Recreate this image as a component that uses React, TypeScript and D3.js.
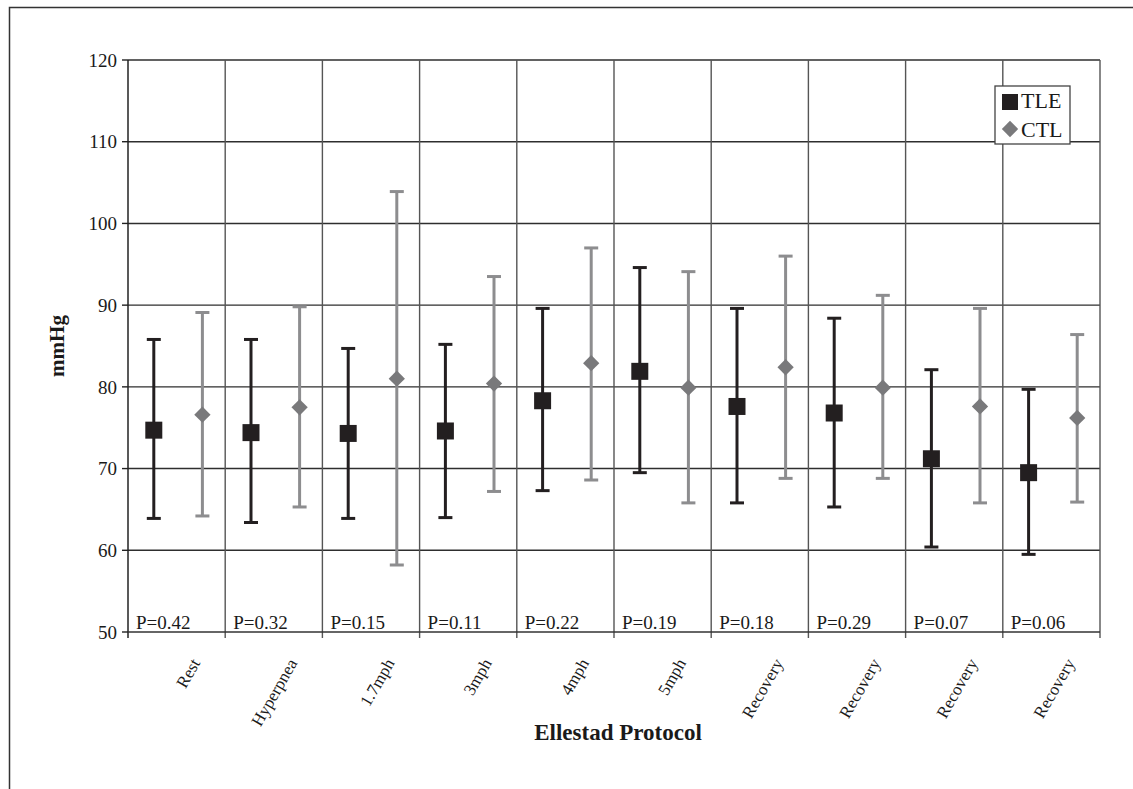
import React, { useRef, useEffect } from 'react';
import * as d3 from 'd3';

const categories = ['Rest', 'Hyperpnea', '1.7mph', '3mph', '4mph', '5mph', 'Recovery', 'Recovery', 'Recovery', 'Recovery'];
const pLabels = ['P=0.42', 'P=0.32', 'P=0.15', 'P=0.11', 'P=0.22', 'P=0.19', 'P=0.18', 'P=0.29', 'P=0.07', 'P=0.06'];

const tleMean = [74.7, 74.4, 74.3, 74.6, 78.3, 81.9, 77.6, 76.8, 71.2, 69.5];
const tleHigh = [85.8, 85.8, 84.7, 85.2, 89.6, 94.6, 89.6, 88.4, 82.1, 79.7];
const tleLow = [63.9, 63.4, 63.9, 64.0, 67.3, 69.5, 65.8, 65.3, 60.4, 59.5];

const ctlMean = [76.6, 77.5, 81.0, 80.4, 82.9, 79.9, 82.4, 79.9, 77.6, 76.2];
const ctlHigh = [89.1, 89.8, 103.9, 93.5, 97.0, 94.1, 96.0, 91.2, 89.6, 86.4];
const ctlLow = [64.2, 65.3, 58.2, 67.2, 68.6, 65.8, 68.8, 68.8, 65.8, 65.9];

const yTicks = [50, 60, 70, 80, 90, 100, 110, 120];

const FONT = '"Liberation Serif", "Times New Roman", serif';
const DARK = '#231f20';
const GREY_LINE = '#8d8d8f';
const GREY_MARK = '#79797b';

const Chart = () => {
    const svgRef = useRef(null);

    useEffect(() => {
        const svg = d3.select(svgRef.current);
        svg.selectAll('*').remove();
        const width = 1133;
        const height = 789;
        const margin = { top: 60, right: 33, bottom: 157, left: 128 };
        const innerWidth = width - margin.left - margin.right;
        const innerHeight = height - margin.top - margin.bottom;

        // outer frame (runs off the right and bottom edges)
        svg.append('rect')
            .attr('x', 9.5).attr('y', 7.5)
            .attr('width', 1140).attr('height', 800)
            .attr('fill', 'white')
            .attr('stroke', '#333').attr('stroke-width', 1.5);

        const idx = categories.map((_, i) => String(i));
        const xScale = d3.scaleBand().domain(idx).range([0, innerWidth]).padding(0);
        const sub = d3.scalePoint().domain(['TLE', 'CTL']).range([0, xScale.bandwidth()]).padding(0.5);
        const yScale = d3.scaleLinear().domain([50, 120]).range([innerHeight, 0]);

        const g = svg.append('g')
            .attr('transform', `translate(${margin.left},${margin.top})`);

        // horizontal gridlines
        g.selectAll('line.hgrid')
            .data(yTicks.filter(t => t > 50))
            .enter().append('line')
            .attr('x1', 0).attr('x2', innerWidth)
            .attr('y1', d => yScale(d)).attr('y2', d => yScale(d))
            .attr('stroke', '#2e2e2e').attr('stroke-width', 1.4);

        // vertical gridlines at category boundaries
        g.selectAll('line.vgrid')
            .data(idx.slice(1).concat(['end']))
            .enter().append('line')
            .attr('x1', d => d === 'end' ? innerWidth : xScale(d))
            .attr('x2', d => d === 'end' ? innerWidth : xScale(d))
            .attr('y1', 0).attr('y2', innerHeight + 6)
            .attr('stroke', '#555').attr('stroke-width', 1.4);

        // axes
        g.append('line')
            .attr('x1', 0).attr('x2', 0).attr('y1', 0).attr('y2', innerHeight + 6)
            .attr('stroke', '#222').attr('stroke-width', 1.5);
        g.append('line')
            .attr('x1', 0).attr('x2', innerWidth).attr('y1', innerHeight).attr('y2', innerHeight)
            .attr('stroke', '#333').attr('stroke-width', 1.6);

        // y ticks + labels
        const yt = g.selectAll('g.ytick').data(yTicks).enter().append('g')
            .attr('transform', d => `translate(0,${yScale(d)})`);
        yt.append('line').attr('x1', -6).attr('x2', 0)
            .attr('stroke', '#222').attr('stroke-width', 1.4);
        yt.append('text')
            .attr('x', -11).attr('dy', '0.35em')
            .attr('text-anchor', 'end')
            .attr('font-family', FONT).attr('font-size', 19)
            .attr('fill', '#1a1a1a')
            .text(d => d);

        // P labels
        g.selectAll('text.p')
            .data(pLabels)
            .enter().append('text')
            .attr('x', (d, i) => xScale(String(i)) + 8)
            .attr('y', innerHeight - 3)
            .attr('font-family', FONT).attr('font-size', 19)
            .attr('fill', '#1a1a1a')
            .text(d => d);

        // category labels
        g.selectAll('text.cat')
            .data(categories)
            .enter().append('text')
            .attr('transform', (d, i) => `translate(${xScale(String(i)) + xScale.bandwidth() / 2 + 24},${innerHeight + 31}) rotate(-60)`)
            .attr('text-anchor', 'end')
            .attr('font-family', FONT).attr('font-size', 17)
            .attr('fill', '#1a1a1a')
            .text(d => d);

        // error bars
        const series = [
            { key: 'TLE', mean: tleMean, high: tleHigh, low: tleLow, line: DARK, mark: DARK },
            { key: 'CTL', mean: ctlMean, high: ctlHigh, low: ctlLow, line: GREY_LINE, mark: GREY_MARK },
        ];
        const cap = 7;
        series.forEach(s => {
            const sg = g.append('g');
            const cx = i => xScale(String(i)) + sub(s.key) + 1.5;
            sg.selectAll('line.bar').data(s.mean).enter().append('line')
                .attr('x1', (d, i) => cx(i)).attr('x2', (d, i) => cx(i))
                .attr('y1', (d, i) => yScale(s.high[i])).attr('y2', (d, i) => yScale(s.low[i]))
                .attr('stroke', s.line).attr('stroke-width', 3);
            sg.selectAll('line.hi').data(s.high).enter().append('line')
                .attr('x1', (d, i) => cx(i) - cap).attr('x2', (d, i) => cx(i) + cap)
                .attr('y1', d => yScale(d)).attr('y2', d => yScale(d))
                .attr('stroke', s.line).attr('stroke-width', 3);
            sg.selectAll('line.lo').data(s.low).enter().append('line')
                .attr('x1', (d, i) => cx(i) - cap).attr('x2', (d, i) => cx(i) + cap)
                .attr('y1', d => yScale(d)).attr('y2', d => yScale(d))
                .attr('stroke', s.line).attr('stroke-width', 3);
            const sym = s.key === 'TLE' ? d3.symbolSquare : d3.symbolDiamond2;
            const size = s.key === 'TLE' ? 17 * 17 : 13 * 13;
            sg.selectAll('path.m').data(s.mean).enter().append('path')
                .attr('d', d3.symbol().type(sym).size(size))
                .attr('transform', (d, i) => `translate(${cx(i)},${yScale(d)})`)
                .attr('fill', s.mark);
        });

        // legend
        const lg = svg.append('g').attr('transform', 'translate(995,86)');
        lg.append('rect').attr('width', 75).attr('height', 58)
            .attr('fill', 'white').attr('stroke', '#444').attr('stroke-width', 1.3);
        lg.append('path')
            .attr('d', d3.symbol().type(d3.symbolSquare).size(16 * 16))
            .attr('transform', 'translate(15,16)').attr('fill', DARK);
        lg.append('path')
            .attr('d', d3.symbol().type(d3.symbolDiamond2).size(13 * 13))
            .attr('transform', 'translate(15,43)').attr('fill', GREY_MARK);
        lg.append('text').attr('x', 26).attr('y', 22)
            .attr('font-family', FONT).attr('font-size', 22).attr('fill', '#1a1a1a').text('TLE');
        lg.append('text').attr('x', 26).attr('y', 51)
            .attr('font-family', FONT).attr('font-size', 22).attr('fill', '#1a1a1a').text('CTL');

        // axis titles
        svg.append('text')
            .attr('x', margin.left + innerWidth / 2 + 4).attr('y', 740)
            .attr('text-anchor', 'middle')
            .attr('font-family', FONT).attr('font-size', 23).attr('font-weight', 'bold')
            .attr('fill', '#1a1a1a')
            .text('Ellestad Protocol');
        svg.append('text')
            .attr('transform', `translate(64,${margin.top + innerHeight / 2}) rotate(-90)`)
            .attr('text-anchor', 'middle')
            .attr('font-family', FONT).attr('font-size', 21).attr('font-weight', 'bold')
            .attr('fill', '#1a1a1a')
            .text('mmHg');
    }, []);

    return <svg ref={svgRef} width={1133} height={789} style={{ display: 'block' }}></svg>;
};

export default function App() {
    return (
        <div style={{ position: 'fixed', left: 0, top: 0, background: 'white' }}>
            <Chart />
        </div>
    );
}
